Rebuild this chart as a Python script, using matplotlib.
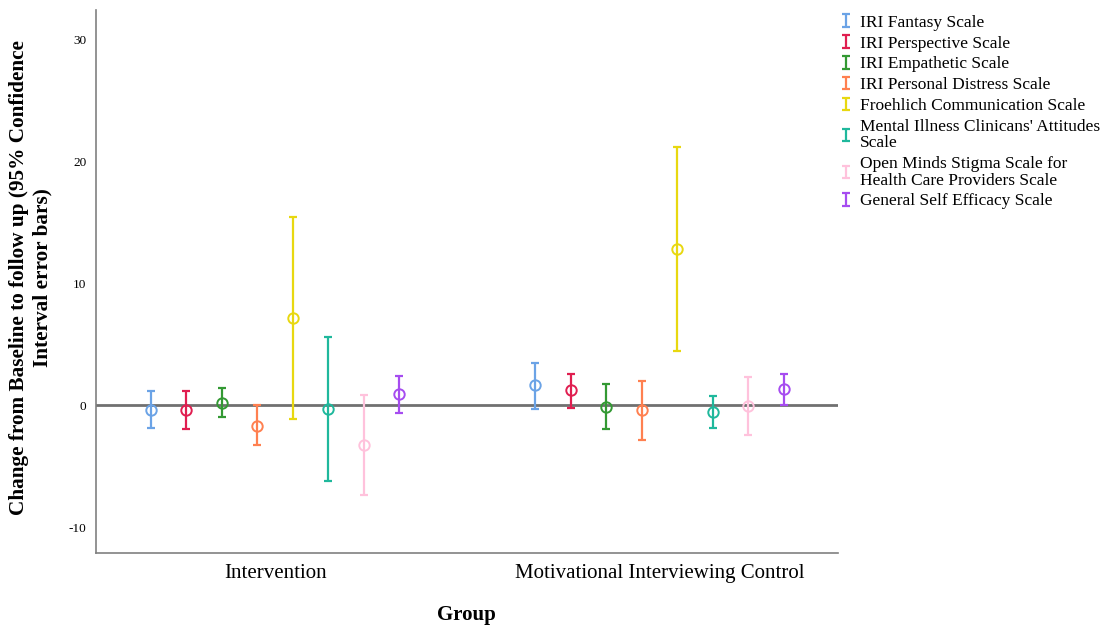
import matplotlib
matplotlib.use("Agg")
import matplotlib.pyplot as plt
from matplotlib.container import ErrorbarContainer
from matplotlib.legend_handler import HandlerErrorbar
import numpy as np

groups = ["Intervention", "Motivational Interviewing Control"]
scales = ["IRI Fantasy Scale", "IRI Perspective Scale", "IRI Empathetic Scale",
          "IRI Personal Distress Scale", "Froehlich Communication Scale",
          "Mental Illness Clinicans' Attitudes\nScale",
          "Open Minds Stigma Scale for\nHealth Care Providers Scale",
          "General Self Efficacy Scale"]
colors = ["#6ba3e6", "#e01e50", "#339933", "#ff8050", "#e8d810",
          "#1fb89c", "#ffc2dc", "#a64cf0"]

# mean, lower CI, upper CI for each group (rows: scales)
mean_int = [-0.33, -0.38, 0.2, -1.65, 7.15, -0.3, -3.2, 0.9]
low_int = [-1.88, -1.94, -0.96, -3.25, -1.1, -6.2, -7.3, -0.63]
high_int = [1.15, 1.2, 1.42, 0.02, 15.45, 5.6, 0.88, 2.38]

mean_ctl = [1.64, 1.23, -0.14, -0.35, 12.8, -0.55, -0.05, 1.31]
low_ctl = [-0.27, -0.19, -1.94, -2.79, 4.45, -1.86, -2.38, 0.05]
high_ctl = [3.52, 2.6, 1.72, 2.02, 21.15, 0.77, 2.3, 2.57]

plt.rcParams['font.family'] = ['Liberation Serif', 'DejaVu Serif']

fig = plt.figure(figsize=(11.17, 6.30), dpi=100)
ax = fig.add_axes([0.086, 0.122, 0.664, 0.862])

offsets = (np.arange(len(scales)) - 3.5) * 0.0923
means = [mean_int, mean_ctl]
lows = [low_int, low_ctl]
highs = [high_int, high_ctl]

ax.axhline(0, color="#707070", lw=2, zorder=1)

for i, (lab, col) in enumerate(zip(scales, colors)):
    xs = np.arange(len(groups)) + offsets[i]
    m = np.array([means[g][i] for g in range(2)])
    lo = np.array([lows[g][i] for g in range(2)])
    hi = np.array([highs[g][i] for g in range(2)])
    ax.errorbar(xs, m, yerr=[m - lo, hi - m], fmt='none', ecolor=col,
                elinewidth=1.6, capsize=3, capthick=1.6, label=lab, zorder=2)
    ax.plot(xs, m, linestyle='none', marker='o', markersize=7.5,
            markerfacecolor='none', markeredgecolor=col, markeredgewidth=1.4,
            zorder=3)

ax.set_xlim(-0.466, 1.464)
ax.set_ylim(-12.1, 32.4)
ax.set_xticks(range(len(groups)))
ax.set_xticklabels(groups, fontsize=15)
ax.set_yticks([-10, 0, 10, 20, 30])
ax.set_yticklabels(["-10", "0", "10", "20", "30"], fontsize=9.5)
ax.tick_params(axis='both', length=0)
ax.tick_params(axis='x', pad=8)
ax.tick_params(axis='y', pad=7)
for s in ["top", "right"]:
    ax.spines[s].set_visible(False)
for s in ["left", "bottom"]:
    ax.spines[s].set_color("#808080")
    ax.spines[s].set_linewidth(1.2)

ax.set_xlabel("Group", fontsize=15, fontweight='bold', labelpad=16)
ax.set_ylabel("Change from Baseline to follow up (95% Confidence\nInterval error bars)",
              fontsize=15.3, fontweight='bold', linespacing=1.2)
ax.yaxis.set_label_coords(-0.059, 0.508)

leg = ax.legend(loc='upper left', bbox_to_anchor=(1.0, 0.995), frameon=False,
                fontsize=12.5, handlelength=0.7, handletextpad=0.48,
                labelspacing=0.27, borderaxespad=0.0, borderpad=0.1,
                handler_map={ErrorbarContainer: HandlerErrorbar(yerr_size=0.36)})
for t in leg.get_texts():
    t.set_linespacing(1.05)

fig.savefig("out.png", dpi=100)
